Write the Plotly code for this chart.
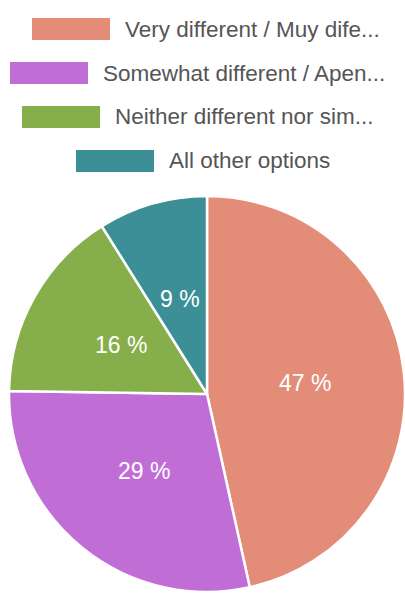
import math
import plotly.graph_objects as go

# Survey answer shares (percent)
categories = [
    "Very different / Muy dife...",
    "Somewhat different / Apen...",
    "Neither different nor sim...",
    "All other options",
]
shares = [47, 29, 16, 9]
colors = ["#E38D79", "#C06ED6", "#86AF4B", "#3C8F96"]

W, H = 405, 595
FONT = "Liberation Sans, Arial, sans-serif"

# Pie placement (px): left/right/top/bottom of the plotting box
pie_l, pie_r, pie_t, pie_b = 9, 405, 195, 593

fig = go.Figure(
    go.Pie(
        labels=categories,
        values=shares,
        sort=False,
        direction="clockwise",
        rotation=0,
        marker=dict(colors=colors, line=dict(color="white", width=2.5)),
        textinfo="none",
        hoverinfo="label+percent",
        showlegend=False,
        domain=dict(x=[pie_l / W, pie_r / W], y=[1 - pie_b / H, 1 - pie_t / H]),
    )
)

annotations, shapes = [], []

# Percentage labels at half radius along each slice's bisector
cx = (pie_l + pie_r) / 2
cy = (pie_t + pie_b) / 2
radius = min(pie_r - pie_l, pie_b - pie_t) / 2
total = sum(shares)
start = 0.0
for v in shares:
    mid = (start + v / 2) / total * 2 * math.pi
    start += v
    px = cx + 0.5 * radius * math.sin(mid)
    py = cy - 0.5 * radius * math.cos(mid)
    annotations.append(dict(
        text=f"{v} %", xref="paper", yref="paper",
        x=px / W, y=1 - py / H, xanchor="center", yanchor="middle",
        showarrow=False,
        font=dict(size=23, color="white", family=FONT),
    ))

# Centered legend rows: swatch + label
row_left = [32, 10, 22, 76]   # left edge of each swatch, px
row_top = 18                  # top of first swatch, px
row_step = 44                 # vertical spacing between rows, px
sw_w, sw_h, gap = 78, 22, 13

for i, (name, col) in enumerate(zip(categories, colors)):
    x0 = row_left[i]
    y0 = row_top + i * row_step
    shapes.append(dict(
        type="rect", xref="paper", yref="paper",
        x0=x0 / W, x1=(x0 + sw_w) / W,
        y0=1 - (y0 + sw_h) / H, y1=1 - y0 / H,
        fillcolor=col, line=dict(width=0),
    ))
    annotations.append(dict(
        text=name, xref="paper", yref="paper",
        x=(x0 + sw_w + gap) / W, y=1 - (y0 + sw_h / 2) / H,
        xanchor="left", yanchor="middle", showarrow=False,
        font=dict(size=22.5, color="#555555", family=FONT),
    ))

fig.update_layout(
    width=W, height=H,
    margin=dict(l=0, r=0, t=0, b=0),
    paper_bgcolor="white",
    plot_bgcolor="white",
    shapes=shapes,
    annotations=annotations,
)

fig.write_html("out.html")
